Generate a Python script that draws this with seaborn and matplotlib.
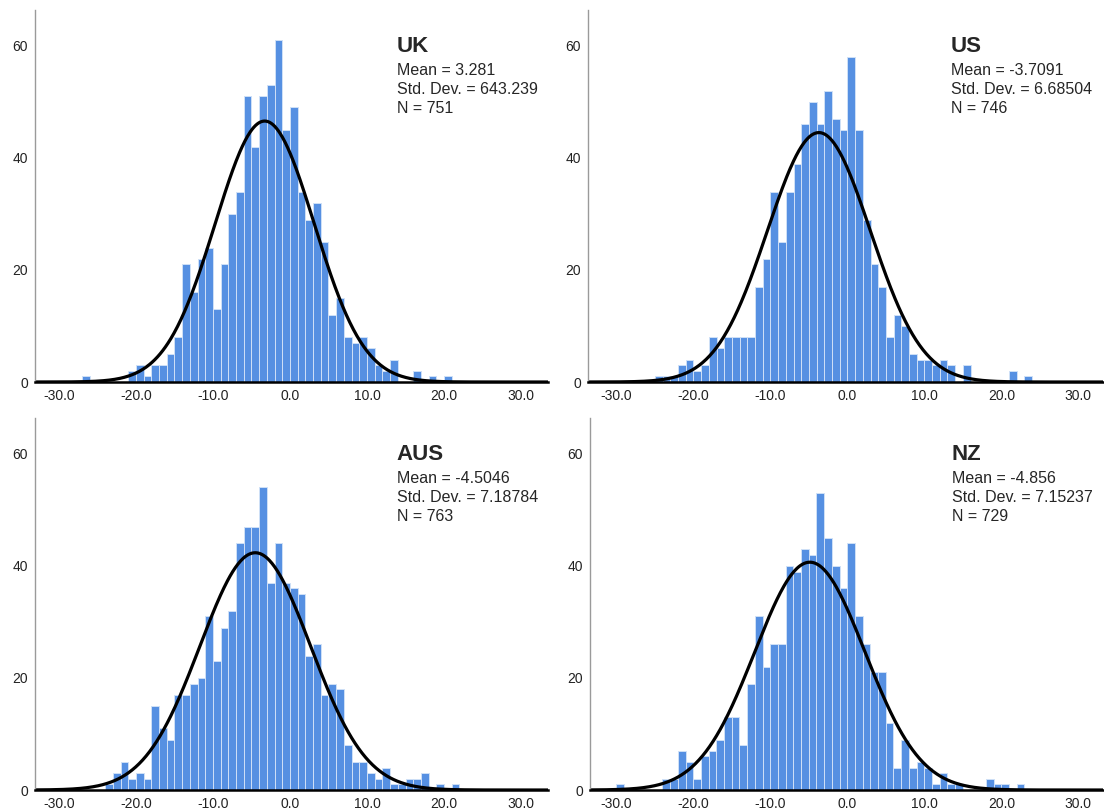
import numpy as np
import pandas as pd
import matplotlib
matplotlib.use("Agg")
import matplotlib.pyplot as plt
import seaborn as sns

countries = ["UK", "US", "AUS", "NZ"]
mean_labels = ["3.281", "-3.7091", "-4.5046", "-4.856"]
sd_labels = ["643.239", "6.68504", "7.18784", "7.15237"]
n_values = [751, 746, 763, 729]

# parameters of the fitted normal curve drawn over each histogram
curve_means = [-3.281, -3.7091, -4.5046, -4.856]
curve_sds = [6.43239, 6.68504, 7.18784, 7.15237]

# left edge of the first bin, then counts of consecutive unit-wide bins
first_edges = [-27, -25, -24, -30]
uk_counts = [1, 0, 0, 0, 0, 0,
             2, 3, 1, 3, 3, 5, 8,
             21, 16, 22, 24, 13, 21, 30, 34,
             51, 42, 51, 53, 61, 45, 49,
             34, 29, 32, 25,
             12, 15, 8, 7, 8, 6, 3, 2, 4,
             0, 0, 2, 0, 1, 0, 1]
us_counts = [1, 1, 1, 3, 4, 2, 3, 8, 6, 8, 8, 8, 8, 17, 22, 34, 25, 34, 39, 46,
             50, 46, 52, 47, 45, 58, 45, 29, 21, 17, 8, 12, 10, 5, 4, 4, 3, 4, 3,
             0, 3, 0, 0, 0, 0, 0, 2, 0, 1]
aus_counts = [1, 3, 5, 2, 3, 2, 15, 11, 9, 17, 17, 19, 20, 31, 23, 29, 32, 44, 47,
              47, 54, 37, 44, 37, 36, 35, 24, 26, 17, 19, 18, 8, 5, 5, 3, 2, 4, 1,
              1, 2, 2, 3, 0, 1, 0, 1]
nz_counts = [1, 0, 0, 0, 0, 0, 2, 2, 7, 5, 2, 6, 7, 9, 13, 13, 8, 19, 31, 22, 26,
             26, 40, 39, 43, 42, 53, 45, 40, 36, 44, 31, 26, 21, 21, 12, 4, 9, 4,
             5, 4, 1, 3, 1, 1, 0, 0, 0, 2, 1, 1, 0, 1]
all_counts = [uk_counts, us_counts, aus_counts, nz_counts]

sns.set_style("white")
plt.rcParams["font.family"] = ["Liberation Sans", "DejaVu Sans"]

W, H = 1104, 810
fig = plt.figure(figsize=(W / 100, H / 100), dpi=100)

# axes boxes in pixels: left, top, width, height
boxes = [(35, 10, 513, 372), (588, 10, 515, 372), (35, 418, 513, 372), (590, 418, 513, 372)]
xlims = [(-33.1, 33.5), (-33.7, 33.2), (-33.1, 33.5), (-33.4, 33.2)]
bar_color = "#5690E2"

for i, country in enumerate(countries):
    l, t, w, h = boxes[i]
    ax = fig.add_axes([l / W, 1 - (t + h) / H, w / W, h / H])

    counts = all_counts[i]
    start = first_edges[i]
    df = pd.DataFrame({"score": np.arange(len(counts)) + start + 0.5, "count": counts})
    sns.histplot(data=df, x="score", weights="count", binwidth=1,
                 binrange=(start, start + len(counts)), ax=ax,
                 color=bar_color, alpha=1, edgecolor="#cfe0f7", linewidth=0.7)

    xs = np.linspace(-34, 34, 600)
    sd = curve_sds[i]
    ys = n_values[i] / (sd * np.sqrt(2 * np.pi)) * np.exp(-0.5 * ((xs - curve_means[i]) / sd) ** 2)
    sns.lineplot(x=xs, y=ys, ax=ax, color="black", linewidth=2.3)

    ax.set_xlim(*xlims[i])
    ax.set_ylim(0, 66.4)
    ax.set_xticks([-30, -20, -10, 0, 10, 20, 30])
    ax.set_xticklabels([f"{v:.1f}" for v in [-30, -20, -10, 0, 10, 20, 30]])
    ax.set_yticks([0, 20, 40, 60])
    ax.set_yticklabels(["0", "20", "40", "60"])
    ax.tick_params(axis="both", length=0, labelsize=10, colors="#222222")
    ax.tick_params(axis="x", pad=5)
    ax.tick_params(axis="y", pad=5)
    ax.set_xlabel("")
    ax.set_ylabel("")
    for side in ["top", "right"]:
        ax.spines[side].set_visible(False)
    ax.spines["left"].set_color("#9a9a9a")
    ax.spines["left"].set_linewidth(1)
    ax.spines["bottom"].set_color("black")
    ax.spines["bottom"].set_linewidth(1.8)

    tx = 0.705
    ax.text(tx, 1 - 42 / h, country, transform=ax.transAxes, fontsize=16,
            fontweight="bold", va="baseline", ha="left")
    ax.text(tx, 1 - 65 / h, f"Mean = {mean_labels[i]}", transform=ax.transAxes,
            fontsize=11.5, va="baseline", ha="left")
    ax.text(tx, 1 - 84 / h, f"Std. Dev. = {sd_labels[i]}", transform=ax.transAxes,
            fontsize=11.5, va="baseline", ha="left")
    ax.text(tx, 1 - 103 / h, f"N = {n_values[i]}", transform=ax.transAxes,
            fontsize=11.5, va="baseline", ha="left")

fig.savefig("out.png", dpi=100)
plt.close(fig)
